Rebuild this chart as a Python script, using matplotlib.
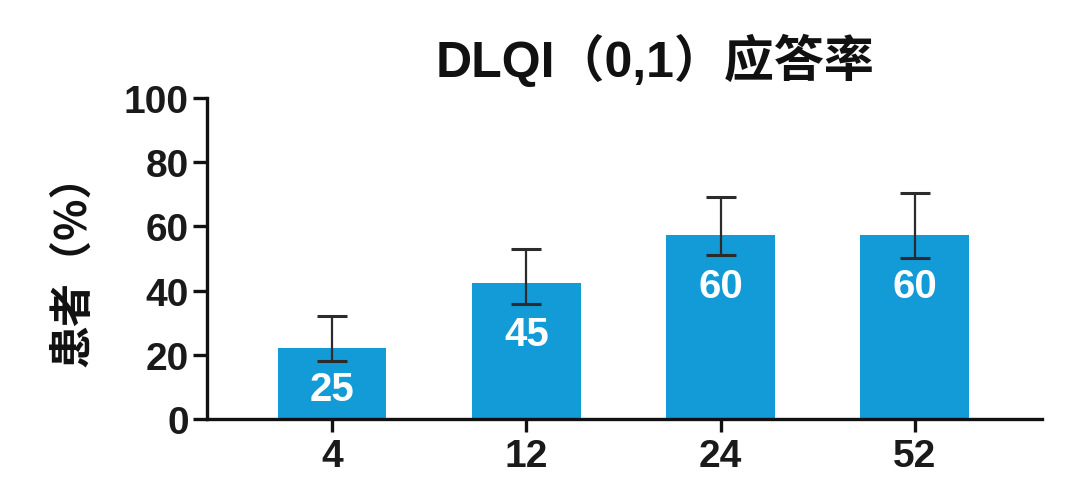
import matplotlib
matplotlib.use("Agg")
import matplotlib.pyplot as plt
import numpy as np

weeks = ["4", "12", "24", "52"]
response = [22.0, 42.4, 57.3, 57.3]       # bar heights as drawn
err_low = [18.0, 35.8, 51.1, 50.1]         # lower cap
err_high = [32.0, 53.0, 69.1, 70.4]        # upper cap
bar_labels = ["25", "45", "60", "60"]

plt.rcParams['font.family'] = ['Liberation Sans', 'Noto Sans CJK SC', 'DejaVu Sans']

fig = plt.figure(figsize=(10.8, 4.89), dpi=100)
ax = fig.add_axes([0.1917, 0.1411, 0.7731, 0.6564])

x = np.arange(len(weeks))
resp = np.array(response)
lo = resp - np.array(err_low)
hi = np.array(err_high) - resp

ax.bar(x, resp, width=0.56, color="#139bd8", zorder=2)
ax.errorbar(x, resp, yerr=[lo, hi], fmt="none", ecolor="#2b2b2b",
            elinewidth=1.6, capsize=11, capthick=2.2, zorder=3)

for xi, v, lab in zip(x, resp, bar_labels):
    ax.text(xi, max(v - 16, v * 0.42), lab, ha="center", va="center",
            color="white", fontsize=29, fontweight="bold", zorder=4)

ax.set_xlim(-0.643, 3.654)
ax.set_ylim(0, 100)
ax.set_yticks([0, 20, 40, 60, 80, 100])
ax.set_xticks(x)
ax.set_xticklabels(weeks)

for s in ["top", "right"]:
    ax.spines[s].set_visible(False)
for s in ["left", "bottom"]:
    ax.spines[s].set_linewidth(2.4)
    ax.spines[s].set_color("#111111")

ax.tick_params(axis="both", width=2.4, length=10, color="#111111",
               labelsize=28, pad=3)
ax.tick_params(axis="x", length=9, pad=5)
for lab in ax.get_xticklabels() + ax.get_yticklabels():
    lab.set_fontweight("bold")
    lab.set_color("#1a1a1a")

fig.text(0.607, 0.877, "DLQI（0,1）应答率", ha="center", va="center",
         fontsize=36, fontweight="bold", color="#111111")
fig.text(0.067, 0.468, "患者（%）", ha="center", va="center", rotation=90,
         fontsize=31, fontweight="bold", color="#111111",
         family=['Noto Sans CJK SC', 'DejaVu Sans'])

fig.savefig("out.png", dpi=100)
plt.close(fig)
